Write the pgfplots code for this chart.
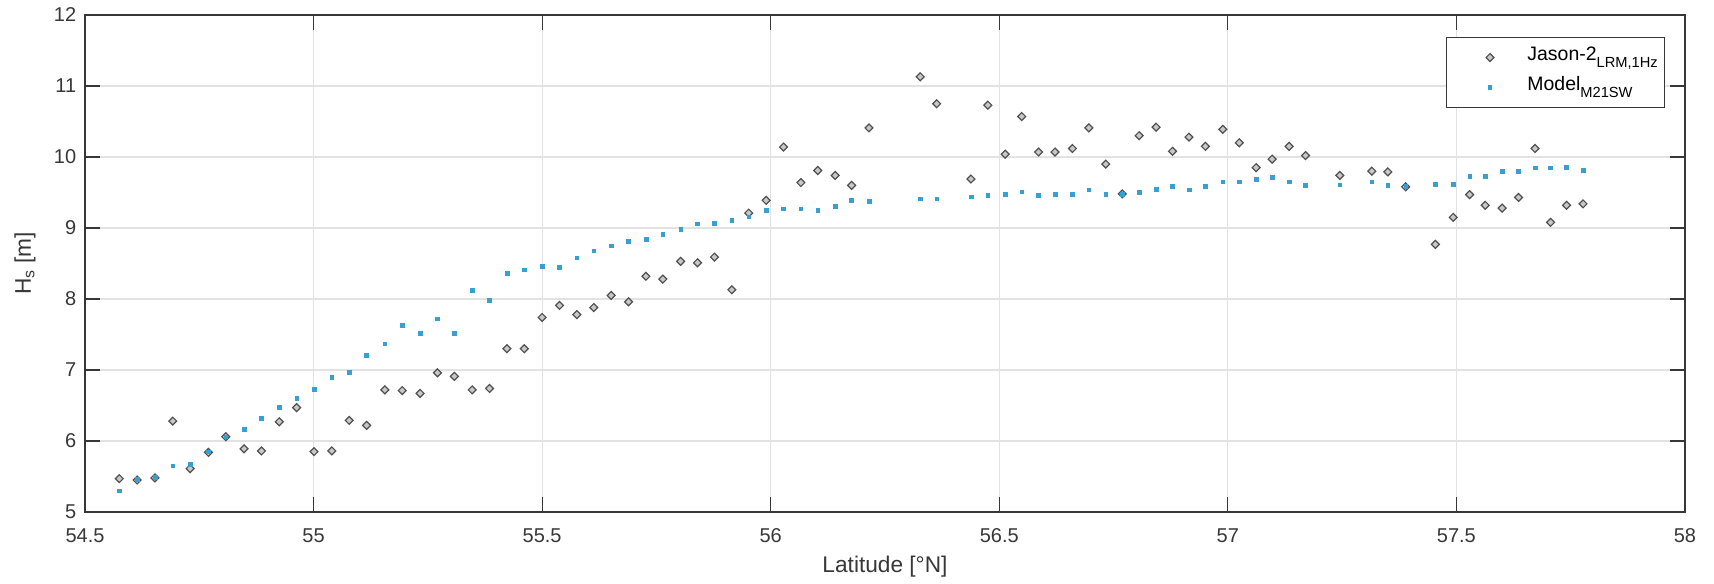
\documentclass[border=0pt]{standalone}
\usepackage{fontspec}
\setmainfont{Liberation Sans}
\usepackage{pgfplots}
\pgfplotsset{compat=1.18}
\definecolor{jas}{RGB}{80,80,80}
\definecolor{jasfill}{RGB}{200,200,200}
\definecolor{mod}{RGB}{55,160,210}
\definecolor{axc}{RGB}{55,55,55}
\definecolor{gridc}{RGB}{226,226,226}
\newcommand{\sub}[1]{\raisebox{-5pt}{\fontsize{11}{12}\selectfont #1}}
\pgfplotsset{myleg/.style={legend image code/.code={\path[draw=none,fill=none] (0pt,-2pt) rectangle (56pt,2pt); \draw[mark repeat=2,mark phase=2,##1] plot coordinates {(0pt,0pt) (28pt,0pt) (56pt,0pt)};}}}

\pgfplotstableread{
lat H
54.575 5.47
54.614 5.45
54.653 5.48
54.692 6.28
54.730 5.61
54.770 5.84
54.808 6.06
54.848 5.89
54.886 5.86
54.925 6.27
54.963 6.47
55.001 5.85
55.040 5.86
55.078 6.29
55.116 6.22
55.156 6.72
55.194 6.71
55.233 6.67
55.271 6.96
55.308 6.91
55.347 6.72
55.385 6.74
55.423 7.30
55.461 7.30
55.500 7.74
55.538 7.91
55.576 7.78
55.613 7.88
55.651 8.05
55.689 7.96
55.727 8.32
55.764 8.28
55.803 8.53
55.840 8.51
55.877 8.59
55.915 8.13
55.952 9.21
55.990 9.39
56.028 10.14
56.066 9.64
56.103 9.81
56.141 9.74
56.177 9.60
56.215 10.41
56.327 11.13
56.363 10.75
56.438 9.69
56.475 10.73
56.513 10.04
56.549 10.57
56.586 10.07
56.622 10.07
56.660 10.12
56.696 10.41
56.733 9.90
56.769 9.48
56.806 10.30
56.843 10.42
56.879 10.08
56.915 10.28
56.951 10.15
56.989 10.39
57.025 10.20
57.062 9.85
57.097 9.97
57.134 10.15
57.170 10.02
57.245 9.74
57.315 9.80
57.350 9.79
57.389 9.58
57.454 8.77
57.493 9.15
57.529 9.47
57.563 9.32
57.600 9.28
57.636 9.43
57.672 10.12
57.706 9.08
57.741 9.32
57.777 9.34
}\jason

\pgfplotstableread{
lat H
54.575 5.30
54.614 5.46
54.653 5.49
54.692 5.65
54.730 5.67
54.770 5.85
54.808 6.06
54.848 6.17
54.886 6.32
54.925 6.47
54.963 6.60
55.001 6.73
55.040 6.90
55.078 6.97
55.116 7.21
55.156 7.37
55.194 7.63
55.233 7.52
55.271 7.72
55.308 7.52
55.347 8.12
55.385 7.98
55.423 8.36
55.461 8.41
55.500 8.46
55.538 8.45
55.576 8.58
55.613 8.68
55.651 8.75
55.689 8.81
55.727 8.84
55.764 8.91
55.803 8.98
55.840 9.06
55.877 9.07
55.915 9.11
55.952 9.16
55.990 9.25
56.028 9.27
56.066 9.27
56.103 9.25
56.141 9.31
56.177 9.39
56.215 9.38
56.327 9.41
56.363 9.41
56.438 9.44
56.475 9.46
56.513 9.48
56.549 9.51
56.586 9.46
56.622 9.47
56.660 9.48
56.696 9.54
56.733 9.47
56.769 9.48
56.806 9.50
56.843 9.55
56.879 9.59
56.915 9.54
56.951 9.59
56.989 9.65
57.025 9.65
57.062 9.69
57.097 9.71
57.134 9.65
57.170 9.60
57.245 9.61
57.315 9.65
57.350 9.60
57.389 9.59
57.454 9.62
57.493 9.62
57.529 9.73
57.563 9.73
57.600 9.80
57.636 9.80
57.672 9.85
57.706 9.85
57.741 9.86
57.777 9.81
}\model

\begin{document}
\begin{tikzpicture}
\useasboundingbox (-63.75pt,-54pt) rectangle (1221.75pt,384pt);
\begin{axis}[
  at={(0,0)}, anchor=south west,
  scale only axis, width=1200pt, height=372.75pt,
  xmin=54.5, xmax=58, ymin=5, ymax=12,
  xtick={54.5,55,55.5,56,56.5,57,57.5,58},
  xticklabels={54.5,55,55.5,56,56.5,57,57.5,58},
  ytick={5,6,7,8,9,10,11,12},
  yticklabels={5,6,7,8,9,10,11,12},
  /pgf/number format/assume math mode=true,
  tick align=inside,
  major tick length=11pt,
  every tick/.style={axc, line width=0.9pt},
  grid=major,
  major grid style={gridc, line width=0.8pt},
  axis line style={axc, line width=1.1pt},
  ticklabel style={font=\fontsize{15}{18}\selectfont, text=axc},
  xticklabel style={anchor=north, inner sep=0pt, yshift=-12pt},
  yticklabel style={anchor=east, inner sep=0pt, xshift=-6.4pt},
  xlabel={Latitude [°N]},
  ylabel={H\textsubscript{s} [m]},
  every axis x label/.style={at={(axis description cs:0.5,-0.1107)}, anchor=center, font=\fontsize{17}{20}\selectfont, text=axc},
  every axis y label/.style={at={(axis description cs:-0.0375,0.5)}, rotate=90, anchor=center, font=\fontsize{17}{20}\selectfont, text=axc},
  legend style={at={(rel axis cs:1,1)}, anchor=north east, xshift=-15pt, yshift=-16.5pt,
    draw=axc, line width=0.8pt, font=\fontsize{14.6}{16}\selectfont, text=black,
    inner xsep=5pt, inner ysep=6.5pt, row sep=5.5pt, column sep=0pt,
    nodes={inner sep=0pt, text height=11pt, text depth=6pt}},
  legend cell align=left,
]
\addplot[only marks, mark=square*, mark size=2.1pt,
  mark options={rotate=45, draw=jas, fill=jasfill, line width=0.9pt}, myleg]
  table[x=lat, y=H] {\jason};
\addlegendentry{Jason-2\sub{LRM,1Hz}}
\addplot[only marks, mark=square*, mark size=1.4pt,
  mark options={draw=mod, fill=mod}, myleg]
  table[x=lat, y=H] {\model};
\addlegendentry{Model\sub{M21SW}}
\end{axis}
\end{tikzpicture}
\end{document}
